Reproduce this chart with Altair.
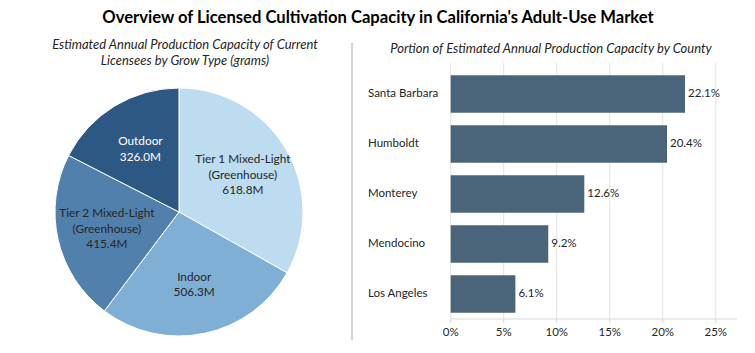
import altair as alt
import pandas as pd

# ---- data ----
grow_types = ["Tier 1 Mixed-Light (Greenhouse)", "Indoor", "Tier 2 Mixed-Light (Greenhouse)", "Outdoor"]
capacity_m = [618.8, 506.3, 415.4, 326.0]
pie_colors = ["#bddcf0", "#80afd5", "#5280ad", "#2e5884"]

counties = ["Santa Barbara", "Humboldt", "Monterey", "Mendocino", "Los Angeles"]
share_pct = [22.1, 20.4, 12.6, 9.2, 6.1]

tick_values = [0, 5, 10, 15, 20, 25]

title_main = "Overview of Licensed Cultivation Capacity in California's Adult-Use Market"
title_left = ["Estimated Annual Production Capacity of Current", "Licensees by Grow Type (grams)"]
title_right = "Portion of Estimated Annual Production Capacity by County"

FONT = "Lato"

pie_df = pd.DataFrame({
    "type": grow_types,
    "value": capacity_m,
    "order": list(range(len(grow_types))),
})
pie_df["label"] = [t.replace(" (", "\n(") + "\n" + f"{v:.1f}M" for t, v in zip(grow_types, capacity_m)]
pie_df["nlines"] = [lbl.count("\n") + 1 for lbl in pie_df["label"]]

bar_df = pd.DataFrame({"county": counties, "share": share_pct})
bar_df["label"] = [f"{v:.1f}%" for v in share_pct]

tick_df = pd.DataFrame({"t": tick_values})
tick_df["label"] = [f"{t}%" for t in tick_values]

# ---- pie (left) ----
CX, CY, R = 179, 212, 124
LH = 15.5
theta = alt.Theta("value:Q", stack=True)
order = alt.Order("order:Q")

arc = alt.Chart(pie_df).mark_arc(outerRadius=R, stroke="white", strokeWidth=1).encode(
    theta=theta,
    order=order,
    color=alt.Color("type:N", scale=alt.Scale(domain=grow_types, range=pie_colors), legend=None),
    x=alt.value(CX), y=alt.value(CY),
)

def pie_labels(n):
    return alt.Chart(pie_df).mark_text(
        radius=74, font=FONT, fontSize=11.8, lineBreak="\n", lineHeight=LH,
        align="center", baseline="middle", dy=-(n - 1) * LH / 2,
    ).encode(
        theta=theta,
        order=order,
        text="label:N",
        color=alt.condition(alt.datum.type == "Outdoor", alt.value("white"), alt.value("#262626")),
        x=alt.value(CX), y=alt.value(CY),
    )

arc_text3 = pie_labels(3)
arc_text2 = pie_labels(2)
# each layer shows only the labels with its number of lines, but keeps the full stack
arc_text3 = arc_text3.encode(opacity=alt.condition(alt.datum.nlines == 3, alt.value(1), alt.value(0)))
arc_text2 = arc_text2.encode(opacity=alt.condition(alt.datum.nlines == 2, alt.value(1), alt.value(0)))

# ---- bar chart (right) ----
xs = alt.Scale(domain=[0, 27], range=[450.7, 737], nice=False, zero=True)
ys = alt.Scale(domain=counties, range=[69, 319], paddingInner=0.25, paddingOuter=0.125)

grid = alt.Chart(tick_df).mark_rule(color="#e3e3e3", strokeWidth=1).encode(
    x=alt.X("t:Q", scale=xs, axis=None),
    y=alt.value(63), y2=alt.value(319),
)

bars = alt.Chart(bar_df).mark_bar(color="#4a6479").encode(
    x=alt.X("share:Q", scale=xs, axis=None),
    y=alt.Y("county:N", scale=ys, axis=None, sort=counties),
)

bar_text = alt.Chart(bar_df).mark_text(
    align="left", baseline="middle", dx=3, font=FONT, fontSize=11.5, color="#262626"
).encode(
    x=alt.X("share:Q", scale=xs, axis=None),
    y=alt.Y("county:N", scale=ys, axis=None, sort=counties),
    text="label:N",
)

county_text = alt.Chart(bar_df).mark_text(
    align="left", baseline="middle", font=FONT, fontSize=11.5, color="#262626"
).encode(
    x=alt.value(368),
    y=alt.Y("county:N", scale=ys, axis=None, sort=counties),
    text="county:N",
)

axis_line = alt.Chart(pd.DataFrame({"a": [0], "b": [27]})).mark_rule(color="#d9d9d9").encode(
    x=alt.X("a:Q", scale=xs, axis=None), x2="b:Q", y=alt.value(319),
)

tick_marks = alt.Chart(tick_df).mark_rule(color="#d9d9d9").encode(
    x=alt.X("t:Q", scale=xs, axis=None),
    y=alt.value(319), y2=alt.value(323),
)

tick_text = alt.Chart(tick_df).mark_text(
    align="center", baseline="middle", font=FONT, fontSize=11.5, color="#262626"
).encode(
    x=alt.X("t:Q", scale=xs, axis=None),
    y=alt.value(333),
    text="label:N",
)

# ---- titles and divider ----
title_df = pd.DataFrame({"txt": [title_main]})
t_main = alt.Chart(title_df).mark_text(
    font=FONT, fontSize=16.6, fontWeight="bold", color="#000000", align="center", baseline="middle"
).encode(x=alt.value(378), y=alt.value(18), text="txt:N")

t_left = alt.Chart(pd.DataFrame({"txt": [title_left[0]]})).mark_text(
    font=FONT, fontSize=13, fontStyle="italic", color="#262626", align="center", baseline="middle",
).encode(x=alt.value(185), y=alt.value(45), text="txt:N")

t_left2 = alt.Chart(pd.DataFrame({"txt": [title_left[1]]})).mark_text(
    font=FONT, fontSize=13, fontStyle="italic", color="#262626", align="center", baseline="middle",
).encode(x=alt.value(185), y=alt.value(61), text="txt:N")

t_right = alt.Chart(pd.DataFrame({"txt": [title_right]})).mark_text(
    font=FONT, fontSize=13, fontStyle="italic", color="#262626", align="center", baseline="middle"
).encode(x=alt.value(551), y=alt.value(49), text="txt:N")

divider = alt.Chart(pd.DataFrame({"d": [0]})).mark_rule(color="#a6a6a6", strokeWidth=1).encode(
    x=alt.value(352), y=alt.value(43), y2=alt.value(340),
)

chart = alt.layer(
    arc, arc_text3, arc_text2,
    grid, bars, bar_text, county_text, axis_line, tick_marks, tick_text,
    t_main, t_left, t_left2, t_right, divider,
).resolve_scale(color="independent").properties(
    width=755, height=353, padding=0, autosize=alt.AutoSizeParams(type="none"),
    background="white",
).configure_view(stroke=None)

chart.save("out.html", embed_options={"renderer": "svg", "actions": False})
